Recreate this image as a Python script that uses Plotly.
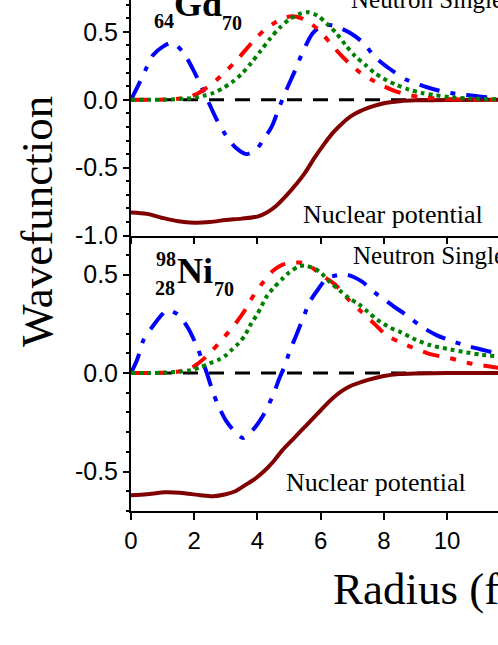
import plotly.graph_objects as go

# ---- data: upper panel (64Gd70) ----
gd_blue_x = [0, 0.28, 0.5, 0.7, 1.0, 1.3, 1.65, 1.95, 2.2, 2.42, 2.7, 3.0, 3.3, 3.65, 3.95, 4.2, 4.45, 4.7, 4.95,
             5.2, 5.45, 5.75, 6.0, 6.3, 6.6, 6.95, 7.35, 7.7, 8.0, 8.3, 8.7, 9.15, 9.7, 10.1, 10.6, 11.1, 11.7]
gd_blue_y = [0, 0.13, 0.24, 0.33, 0.39, 0.42, 0.35, 0.23, 0.11, 0.0, -0.14, -0.26, -0.35, -0.40, -0.37, -0.29,
             -0.20, -0.05, 0.09, 0.22, 0.36, 0.49, 0.54, 0.55, 0.53, 0.49, 0.42, 0.32, 0.26, 0.21, 0.15, 0.11,
             0.07, 0.05, 0.035, 0.022, 0.013]
gd_red_x = [0, 0.5, 1.0, 1.5, 1.8, 2.1, 2.4, 2.7, 3.0, 3.3, 3.6, 3.9, 4.2, 4.5, 4.8, 5.1, 5.4, 5.7, 6.0, 6.3,
            6.6, 6.9, 7.2, 7.6, 8.0, 8.4, 8.8, 9.3, 9.8, 10.5, 11.7]
gd_red_y = [0, 0, 0.002, 0.008, 0.02, 0.045, 0.09, 0.145, 0.21, 0.28, 0.36, 0.44, 0.51, 0.56, 0.60, 0.615,
            0.60, 0.56, 0.50, 0.42, 0.34, 0.27, 0.21, 0.15, 0.10, 0.06, 0.035, 0.018, 0.008, 0.002, 0.0]
gd_green_x = [0, 0.5, 1.0, 1.5, 2.0, 2.3, 2.6, 2.9, 3.2, 3.5, 3.8, 4.1, 4.4, 4.7, 5.0, 5.3, 5.6, 5.9, 6.2,
              6.5, 6.8, 7.1, 7.4, 7.7, 8.0, 8.4, 8.8, 9.2, 9.6, 10.1, 10.7, 11.7]
gd_green_y = [0, 0, 0.001, 0.005, 0.015, 0.03, 0.05, 0.085, 0.13, 0.19, 0.27, 0.36, 0.45, 0.53, 0.59, 0.63,
              0.645, 0.62, 0.56, 0.49, 0.40, 0.32, 0.26, 0.20, 0.155, 0.11, 0.075, 0.05, 0.035, 0.02, 0.01, 0.003]
gd_pot_x = [0, 0.5, 1.0, 1.5, 2.0, 2.5, 3.0, 3.5, 4.0, 4.3, 4.6, 4.9, 5.2, 5.5, 5.8, 6.1, 6.4, 6.7, 7.0,
            7.5, 8.0, 8.5, 9.0, 10.0, 11.7]
gd_pot_y = [-0.83, -0.84, -0.87, -0.895, -0.905, -0.90, -0.885, -0.875, -0.86, -0.83, -0.78, -0.71, -0.63,
            -0.54, -0.43, -0.33, -0.24, -0.17, -0.115, -0.06, -0.025, -0.01, -0.004, -0.001, 0]

# ---- data: lower panel (98/28 Ni70) ----
ni_blue_x = [0, 0.2, 0.4, 0.7, 1.0, 1.15, 1.5, 1.8, 2.1, 2.25, 2.4, 2.6, 2.75, 3.0, 3.3, 3.55, 3.85, 4.2, 4.5,
             4.7, 4.85, 5.0, 5.25, 5.45, 5.65, 5.9, 6.2, 6.8, 7.3, 7.7, 8.0, 8.3, 8.75, 9.2, 9.7, 10.2, 10.7,
             11.2, 11.7]
ni_blue_y = [0, 0.07, 0.17, 0.24, 0.30, 0.32, 0.295, 0.23, 0.13, 0.066, 0.0, -0.10, -0.16, -0.24, -0.30, -0.33,
             -0.29, -0.21, -0.11, -0.025, 0.03, 0.10, 0.20, 0.28, 0.36, 0.42, 0.48, 0.50, 0.465, 0.41, 0.375,
             0.34, 0.29, 0.235, 0.19, 0.16, 0.135, 0.115, 0.095]
ni_red_x = [0, 0.5, 1.0, 1.4, 1.7, 2.0, 2.25, 2.55, 2.85, 3.1, 3.35, 3.65, 3.9, 4.2, 4.5, 4.8, 5.1, 5.4, 5.7,
            6.0, 6.45, 6.9, 7.3, 7.7, 8.1, 8.6, 8.9, 9.5, 10.1, 10.7, 11.3, 11.7]
ni_red_y = [0, 0, 0.002, 0.005, 0.015, 0.035, 0.065, 0.11, 0.165, 0.21, 0.26, 0.33, 0.40, 0.465, 0.52, 0.55,
            0.56, 0.56, 0.54, 0.50, 0.45, 0.37, 0.31, 0.25, 0.19, 0.15, 0.13, 0.095, 0.075, 0.05, 0.035, 0.025]
ni_green_x = [0, 0.5, 1.0, 1.5, 1.9, 2.2, 2.5, 2.8, 3.0, 3.2, 3.4, 3.6, 3.8, 4.0, 4.3, 4.5, 4.8, 5.0, 5.3,
              5.5, 5.8, 6.0, 6.3, 6.6, 6.9, 7.2, 7.5, 7.8, 8.2, 8.5, 9.0, 9.5, 10.1, 10.6, 11.1, 11.7]
ni_green_y = [0, 0, 0.002, 0.006, 0.015, 0.03, 0.05, 0.07, 0.09, 0.12, 0.15, 0.19, 0.25, 0.30, 0.39, 0.43,
              0.48, 0.51, 0.54, 0.545, 0.53, 0.51, 0.46, 0.42, 0.38, 0.35, 0.31, 0.27, 0.23, 0.21, 0.17, 0.14,
              0.12, 0.105, 0.093, 0.083]
ni_pot_x = [0, 0.5, 1.1, 1.7, 2.2, 2.6, 3.0, 3.3, 3.6, 3.9, 4.2, 4.5, 4.8, 5.1, 5.4, 5.7, 6.0, 6.4, 6.9, 7.5,
            8.0, 8.5, 9.0, 10.0, 11.7]
ni_pot_y = [-0.62, -0.615, -0.605, -0.61, -0.62, -0.625, -0.615, -0.60, -0.57, -0.54, -0.50, -0.45, -0.39,
            -0.34, -0.29, -0.24, -0.19, -0.125, -0.07, -0.035, -0.015, -0.005, -0.002, 0, 0]

zero_x = [0, 12]
zero_y = [0, 0]

x_ticks = [0, 2, 4, 6, 8, 10]
top_yticks = [0.5, 0.0, -0.5, -1.0]
top_ylabels = ["0.5", "0.0", "-0.5", "-1.0"]
bot_yticks = [0.5, 0.0, -0.5]
bot_ylabels = ["0.5", "0.0", "-0.5"]

# ---- styling ----
W, H = 498, 645
L, R, T, B = 131, 498, 0, 511
SPLIT = 236

BLUE, RED, GREEN, MAROON = "#0000FF", "#FF0000", "#008000", "#800000"
BLUE_DASH = "21px,11px,5px,11px"
RED_DASH = "17px,11px,6px,11px,6px,11px"
GREEN_DASH = "4px,4px"
ZERO_DASH = "15px,11px"

SANS = "Liberation Sans, Arial, sans-serif"
SERIF = "Liberation Serif, Times New Roman, serif"


def px(xp):
    return (xp - L) / (R - L)


def py(yp):
    return (B - yp) / (B - T)


fig = go.Figure()

panels = [
    ("x2", "y2", gd_blue_x, gd_blue_y, gd_red_x, gd_red_y, gd_green_x, gd_green_y, gd_pot_x, gd_pot_y),
    ("x", "y", ni_blue_x, ni_blue_y, ni_red_x, ni_red_y, ni_green_x, ni_green_y, ni_pot_x, ni_pot_y),
]
for xa, ya, bx, by, rx, ry, gx, gy, ux, uy in panels:
    fig.add_trace(go.Scatter(x=zero_x, y=zero_y, xaxis=xa, yaxis=ya, mode="lines",
                             line=dict(color="black", width=3, dash=ZERO_DASH)))
    fig.add_trace(go.Scatter(x=ux, y=uy, xaxis=xa, yaxis=ya, mode="lines",
                             line=dict(color=MAROON, width=4, shape="spline", smoothing=0.8)))
    fig.add_trace(go.Scatter(x=bx, y=by, xaxis=xa, yaxis=ya, mode="lines",
                             line=dict(color=BLUE, width=4, dash=BLUE_DASH, shape="spline", smoothing=0.8)))
    fig.add_trace(go.Scatter(x=rx, y=ry, xaxis=xa, yaxis=ya, mode="lines",
                             line=dict(color=RED, width=4, dash=RED_DASH, shape="spline", smoothing=0.8)))
    fig.add_trace(go.Scatter(x=gx, y=gy, xaxis=xa, yaxis=ya, mode="lines",
                             line=dict(color=GREEN, width=4, dash=GREEN_DASH, shape="spline", smoothing=0.8)))

x_range = [0, (R - L) / 31.6]
split = py(SPLIT)

common_x = dict(range=x_range, tickmode="array", tickvals=x_ticks, ticks="outside", tickwidth=2,
                tickcolor="black", showline=True, linewidth=2, linecolor="black", showgrid=False,
                zeroline=False)
common_y = dict(tickmode="array", ticks="outside", ticklen=6, tickwidth=2, tickcolor="black",
                showline=True, linewidth=2, linecolor="black", showgrid=False, zeroline=False,
                tickfont=dict(family=SANS, size=25, color="black"),
                minor=dict(tickmode="linear", tick0=0, dtick=0.1, ticks="outside", ticklen=3,
                           tickwidth=1.5, tickcolor="black"))

fig.update_layout(
    width=W, height=H,
    margin=dict(l=L, r=W - R, t=T, b=H - B, pad=0),
    paper_bgcolor="white", plot_bgcolor="white",
    showlegend=False,
    xaxis=dict(**common_x, anchor="y", ticklen=7,
               tickfont=dict(family=SANS, size=24, color="black")),
    xaxis2=dict(**common_x, anchor="y2", matches="x", ticklen=6, showticklabels=False),
    yaxis=dict(**common_y, domain=[0, split], range=[-0.70, (373 - SPLIT) / 197],
               tickvals=bot_yticks, ticktext=bot_ylabels, anchor="x"),
    yaxis2=dict(**common_y, domain=[split, 1], range=[-1.003, 0.735],
                tickvals=top_yticks, ticktext=top_ylabels, anchor="x2"),
)


def note(text, xp, yp, size, family=SERIF, xanchor="center", angle=0):
    fig.add_annotation(text=text, x=px(xp), y=py(yp), xref="paper", yref="paper",
                       xanchor=xanchor, yanchor="middle", showarrow=False, textangle=angle,
                       font=dict(family=family, size=size, color="black"))


note("Wavefunction", 37, 222, 45, angle=-90)
note("Radius (fm)", 331, 589, 45, xanchor="left")
note("Neutron Single-particle States", 349, -1, 25, xanchor="left")
note("Neutron Single-particle States", 351, 255, 25, xanchor="left")
note("Nuclear potential", 301, 214, 26, xanchor="left")
note("Nuclear potential", 284, 482, 26, xanchor="left")

note("<b>Gd</b>", 198, 4, 36)
note("<b>64</b>", 164, 21, 20)
note("<b>70</b>", 232, 23, 20)
note("<b>Ni</b>", 195, 271, 36)
note("<b>98</b>", 166, 259, 20)
note("<b>28</b>", 165, 288, 20)
note("<b>70</b>", 224, 289, 20)

# the page's default body margin would shift the figure; pin it to the corner
fig.write_html("out.html", config={"displayModeBar": False},
               post_script="document.body.style.margin='0px';")
